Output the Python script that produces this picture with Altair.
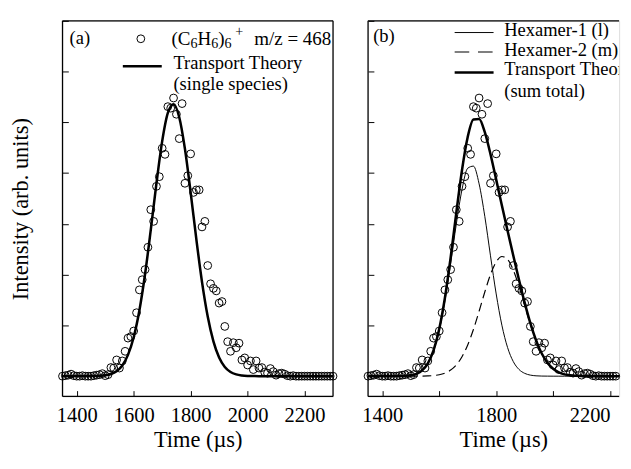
import altair as alt
import pandas as pd

FONT = "Liberation Serif"

# ---------------- data ----------------
time_us = [1350, 1360, 1370, 1380, 1390, 1400, 1410, 1420, 1430, 1440,
           1450, 1460, 1470, 1480, 1490, 1500, 1510, 1520, 1530, 1540,
           1550, 1560, 1570, 1580, 1590, 1600, 1610, 1620, 1630, 1640,
           1650, 1660, 1670, 1680, 1690, 1700, 1710, 1720, 1730, 1740,
           1750, 1760, 1770, 1780, 1790, 1800, 1810, 1820, 1830, 1840,
           1850, 1860, 1870, 1880, 1890, 1900, 1910, 1920, 1930, 1940,
           1950, 1960, 1970, 1980, 1990, 2000, 2010, 2020, 2030, 2040,
           2050, 2060, 2070, 2080, 2090, 2100, 2110, 2120, 2130, 2140,
           2150, 2160, 2170, 2180, 2190, 2200, 2210, 2220, 2230, 2240,
           2250, 2260, 2270, 2280, 2290, 2300]
intensity = [0.00, 0.01, 0.02, 0.04, 0.01, 0.00, 0.00, 0.01, 0.00, 0.00,
             0.00, 0.01, 0.02, 0.03, 0.05, 0.01, 0.03, 0.17, 0.16, 0.32,
             0.16, 0.30, 0.49, 0.75, 0.78, 0.89, 1.25, 1.70, 1.90, 2.10,
             2.54, 3.28, 3.05, 3.74, 3.93, 4.49, 4.37, 5.31, 5.28, 5.48,
             5.16, 4.68, 5.37, 3.80, 3.95, 4.38, 3.62, 3.67, 3.67, 2.94,
             3.05, 2.18, 1.82, 1.73, 1.68, 1.44, 1.47, 0.98, 0.68, 0.49,
             0.66, 0.56, 0.65, 0.32, 0.36, 0.22, 0.30, 0.13, 0.30, 0.16,
             0.17, 0.08, 0.06, 0.15, 0.09, 0.02, 0.05, 0.06, 0.04, 0.01,
             0.00, 0.01, 0.00, 0.00, 0.00, 0.00, 0.00, 0.00, 0.00, 0.00,
             0.00, 0.00, 0.00, 0.00, 0.00, 0.00]

theory_t_a = [1350, 1460, 1480, 1500, 1520, 1540, 1560, 1580, 1600, 1620,
              1640, 1660, 1680, 1700, 1720, 1740, 1760, 1780, 1800, 1820,
              1840, 1860, 1880, 1900, 1920, 1940, 1960, 1980, 2000, 2020,
              2040, 2300]
theory_single = [0.0, 0.002, 0.006, 0.017, 0.042, 0.098, 0.211, 0.420, 0.768, 1.294,
                 2.012, 2.881, 3.802, 4.626, 5.186, 5.358, 5.102, 4.477, 3.621, 2.699,
                 1.854, 1.174, 0.685, 0.368, 0.182, 0.083, 0.035, 0.014, 0.005, 0.002,
                 0.0, 0.0]

theory_t_b = [1350, 1460, 1480, 1500, 1520, 1540, 1560, 1580, 1600, 1620,
              1640, 1660, 1680, 1700, 1720, 1740, 1760, 1780, 1800, 1820,
              1840, 1860, 1880, 1900, 1920, 1940, 1960, 1980, 2000, 2020,
              2040, 2060, 2080, 2100, 2120, 2140, 2300]
hexamer1 = [0.0, 0.002, 0.006, 0.017, 0.046, 0.113, 0.249, 0.497, 0.902, 1.484,
            2.215, 2.998, 3.680, 4.097, 4.138, 3.789, 3.148, 2.371, 1.620, 1.004,
            0.564, 0.288, 0.133, 0.056, 0.021, 0.007, 0.002, 0.001, 0.0, 0.0,
            0.0, 0.0, 0.0, 0.0, 0.0, 0.0, 0.0]
hexamer2 = [0.0, 0.0, 0.0, 0.0, 0.001, 0.002, 0.005, 0.012, 0.028, 0.061,
            0.120, 0.222, 0.383, 0.615, 0.919, 1.279, 1.658, 2.002, 2.252, 2.358,
            2.300, 2.090, 1.768, 1.393, 1.023, 0.699, 0.445, 0.264, 0.146, 0.075,
            0.036, 0.016, 0.007, 0.003, 0.001, 0.0, 0.0]
theory_sum = [0.0, 0.002, 0.006, 0.017, 0.047, 0.115, 0.254, 0.509, 0.930, 1.545,
              2.335, 3.220, 4.063, 4.712, 5.057, 5.068, 4.806, 4.373, 3.872, 3.362,
              2.864, 2.378, 1.901, 1.449, 1.044, 0.706, 0.447, 0.265, 0.146, 0.075,
              0.036, 0.016, 0.007, 0.003, 0.001, 0.0, 0.0]

x_ticks = [1400, 1600, 1800, 2000, 2200]
y_ticks = [0, 1, 2, 3, 4, 5, 6, 7]

pts = pd.DataFrame({"t": time_us, "v": intensity})
df_a = pd.DataFrame({"t": theory_t_a, "v": theory_single})
df_h1 = pd.DataFrame({"t": theory_t_b, "v": hexamer1})
df_h2 = pd.DataFrame({"t": theory_t_b, "v": hexamer2})
df_sum = pd.DataFrame({"t": theory_t_b, "v": theory_sum})
one = pd.DataFrame({"d": [0]})

# panel (a) shows 1350-2300 over 278 px; panel (b) keeps the same scale but
# is cut at the right edge of the page, as in the original figure
WA, H = 278, 386
WB = 258
XMAX_B = 1350 + WB * 950 / WA
FRAME_W = 1.3


def x_enc(xmax, panel_b=False):
    kw = dict(values=x_ticks, title="Time (µs)", offset=-6, tickSize=6,
              labelPadding=9, titlePadding=3, domain=False, grid=False,
              labelFontSize=21, titleFontSize=23, labelFont=FONT,
              titleFont=FONT, titleFontWeight="normal", tickColor="black",
              labelColor="black", titleColor="black", format="d")
    if panel_b:
        kw["labelFlush"] = 12
        kw["titleX"] = WA / 2
    return alt.X("t:Q", scale=alt.Scale(domain=[1350, xmax], nice=False, zero=False),
                 axis=alt.Axis(**kw))


def y_enc(with_title):
    sc = alt.Scale(domain=[-0.4, 7], nice=False, zero=False)
    if with_title:
        ax = alt.Axis(values=y_ticks, labels=False, title="Intensity (arb. units)",
                      offset=-6, tickSize=6, domain=False, grid=False, titlePadding=30,
                      titleFontSize=23, titleFont=FONT, titleFontWeight="normal",
                      tickColor="black", titleColor="black")
        return alt.Y("v:Q", scale=sc, axis=ax)
    ax = alt.Axis(values=y_ticks, labels=False, offset=-6, tickSize=6, domain=False,
                  grid=False, tickColor="black")
    return alt.Y("v:Q", scale=sc, axis=ax, title=None)


def points(with_title, xmax, panel_b=False):
    ch = alt.Chart(pts).mark_point(shape="circle", filled=False, color="black",
                                   size=64, strokeWidth=1, opacity=1)
    if panel_b:
        ch = ch.transform_filter(alt.datum.t <= 2220)
    return ch.encode(x=x_enc(xmax, panel_b), y=y_enc(with_title))


def line(df, width, dash=None):
    kw = dict(color="black", strokeWidth=width, interpolate="monotone", clip=True)
    if dash:
        kw["strokeDash"] = dash
    return alt.Chart(df).mark_line(**kw).encode(x="t:Q", y="v:Q")


def txt(s, x, y, size=19, baseline="middle"):
    return alt.Chart(one).mark_text(text=s, align="left", baseline=baseline, font=FONT,
                                    fontSize=size, color="black", clip=True).encode(
        x=alt.value(x), y=alt.value(y))


def sample(x1, x2, y, width, dash=None):
    kw = dict(color="black", strokeWidth=width)
    if dash:
        kw["strokeDash"] = dash
    return alt.Chart(one).mark_rule(**kw).encode(x=alt.value(x1), x2=alt.value(x2),
                                                  y=alt.value(y))


def vframe(x):
    return alt.Chart(one).mark_rule(color="black", strokeWidth=FRAME_W).encode(
        x=alt.value(x), y=alt.value(0), y2=alt.value(H))


def hframe(y, w):
    return alt.Chart(one).mark_rule(color="black", strokeWidth=FRAME_W).encode(
        x=alt.value(0), x2=alt.value(w), y=alt.value(y))


legend_circle = alt.Chart(one).mark_point(shape="circle", filled=False, color="black",
                                          size=64, strokeWidth=1, opacity=1).encode(
    x=alt.value(80.5), y=alt.value(18.4))

# (C6H6)6+  m/z = 468, composed from pieces for the sub- and superscripts
BL, SUB, SUP = 25.3, 27.5, 16
formula = [
    txt("(C", 112, BL, 19.5, "alphabetic"),
    txt("6", 131.5, SUB, 14.5, "alphabetic"),
    txt("H", 138.8, BL, 19.5, "alphabetic"),
    txt("6", 152.9, SUB, 14.5, "alphabetic"),
    txt(")", 160.1, BL, 19.5, "alphabetic"),
    txt("6", 166.6, SUB, 14.5, "alphabetic"),
    txt("+", 177.5, SUP, 14.5, "alphabetic"),
    txt("m/z = 468", 197, BL, 19.5, "alphabetic"),
]

panel_a = alt.layer(
    vframe(0), vframe(WA), hframe(0, WA), hframe(H, WA),
    points(True, 2300),
    line(df_a, 2.6),
    txt("(a)", 7.3, 18),
    legend_circle,
    *formula,
    sample(62, 102, 46.7, 2.6),
    txt("Transport Theory", 114, 43.4),
    txt("(single species)", 114, 65),
).properties(width=WA, height=H)

panel_b = alt.layer(
    vframe(0), hframe(0, WB), hframe(H, WB),
    points(False, XMAX_B, panel_b=True),
    line(df_h1, 1),
    line(df_h2, 1.2, [9, 5]),
    line(df_sum, 2.6),
    txt("(b)", 5.3, 16),
    sample(89, 129, 12, 1),
    txt("Hexamer-1 (l)", 140, 10),
    sample(89, 129, 32, 1.2, [15, 9]),
    txt("Hexamer-2 (m)", 140, 30),
    sample(89, 129, 53, 2.6),
    txt("Transport Theory", 140, 50),
    txt("(sum total)", 140, 72),
).properties(width=WB, height=H)

chart = alt.hconcat(panel_a, panel_b, spacing=22,
                    padding={"left": 2, "top": 5, "right": 0, "bottom": 0}
                    ).configure_view(strokeOpacity=0).configure(font=FONT)

chart.save("out.html", embed_options={"renderer": "svg", "actions": False})
